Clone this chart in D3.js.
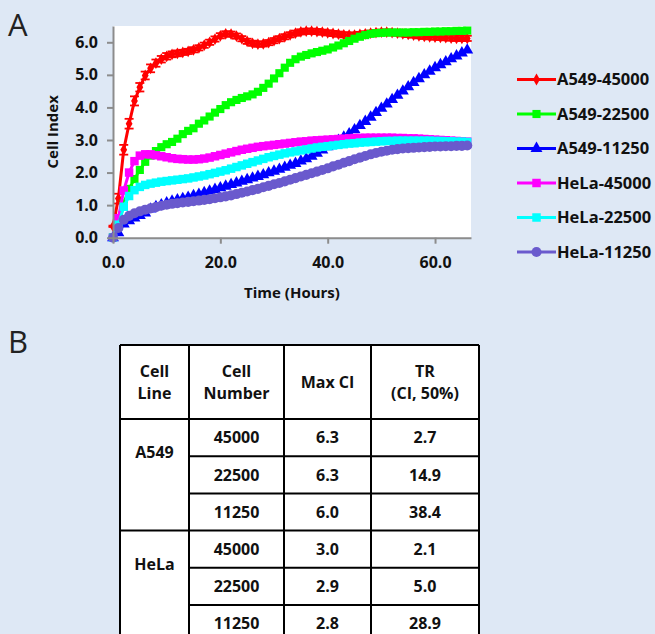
<!DOCTYPE html>
<html>
<head>
<meta charset="UTF-8" />
<style>
  body { margin: 0; background: #dee8f5; }
  svg { display: block; }
  text { font-family: "Open Sans", sans-serif; }
  .axis text { font-weight: bold; font-size: 16px; fill: #111; }
  .axis path, .axis line { stroke: #8c8c8c; stroke-width: 2; }
  .title { font-weight: bold; font-size: 15px; fill: #111; }
  .legend text { font-weight: bold; font-size: 16.5px; fill: #111; }
  .cell { font-weight: bold; font-size: 16px; fill: #111; }
</style>
</head>
<body>
<svg id="chart" width="655" height="634"></svg>
<script src="https://d3js.org/d3.v7.min.js"></script>
<script>
// time axis, one reading per hour
const hours = d3.range(0, 67);

const a549_45000 = [0.35,1.2,2.7,3.5,4.2,4.62,4.98,5.2,5.36,5.48,5.57,5.63,5.66,5.69,5.72,5.77,5.83,5.91,6.0,6.1,
  6.2,6.26,6.25,6.19,6.11,6.03,5.97,5.94,5.95,5.99,6.05,6.11,6.17,6.23,6.28,6.32,6.34,6.34,6.33,6.31,
  6.29,6.27,6.25,6.23,6.22,6.22,6.24,6.26,6.28,6.3,6.31,6.31,6.3,6.28,6.26,6.24,6.22,6.2,6.18,6.17,
  6.16,6.15,6.14,6.13,6.12,6.12,6.12];
const a549_45000_err = [0.02,0.15,0.15,0.15,0.14,0.13,0.12,0.12,0.11,0.1,0.1,0.09,0.09,0.08,0.08,0.08,0.08,0.08,0.08,0.08,
  0.08,0.08,0.08,0.08,0.08,0.08,0.08,0.08,0.08,0.08,0.08,0.08,0.08,0.08,0.08,0.08,0.08,0.08,0.08,0.08,
  0.08,0.08,0.08,0.08,0.08,0.08,0.08,0.08,0.08,0.08,0.08,0.08,0.08,0.08,0.08,0.08,0.08,0.08,0.08,0.08,
  0.08,0.08,0.08,0.08,0.08,0.08,0.08];
const a549_22500 = [0.02,0.35,1.05,1.5,1.8,2.08,2.33,2.52,2.66,2.78,2.87,2.94,3.04,3.18,3.28,3.36,3.5,3.6,3.72,3.84,
  3.95,4.07,4.16,4.23,4.29,4.34,4.4,4.48,4.6,4.73,4.89,5.05,5.22,5.37,5.48,5.56,5.61,5.66,5.7,5.74,
  5.78,5.84,5.9,5.97,6.04,6.11,6.17,6.22,6.26,6.28,6.29,6.3,6.3,6.3,6.3,6.3,6.31,6.31,6.32,6.32,
  6.33,6.33,6.34,6.34,6.35,6.35,6.36];
const a549_11250 = [0.0,0.15,0.42,0.52,0.6,0.68,0.76,0.88,0.95,1.01,1.07,1.12,1.16,1.2,1.24,1.29,1.33,1.38,1.43,1.48,
  1.53,1.58,1.63,1.68,1.73,1.78,1.83,1.88,1.93,1.99,2.04,2.1,2.16,2.22,2.28,2.35,2.42,2.5,2.59,2.69,
  2.79,2.89,2.99,3.09,3.19,3.31,3.44,3.57,3.7,3.84,3.97,4.1,4.24,4.37,4.5,4.63,4.76,4.88,5.0,5.11,
  5.22,5.31,5.4,5.49,5.58,5.67,5.76];
const hela_45000 = [0.0,0.6,1.45,2.0,2.35,2.52,2.56,2.56,2.53,2.5,2.47,2.44,2.42,2.41,2.4,2.4,2.41,2.43,2.46,2.5,
  2.54,2.58,2.62,2.66,2.7,2.73,2.76,2.79,2.81,2.83,2.85,2.87,2.89,2.91,2.93,2.95,2.96,2.98,2.99,3.0,
  3.01,3.02,3.03,3.04,3.05,3.06,3.06,3.07,3.07,3.07,3.07,3.07,3.07,3.06,3.06,3.05,3.05,3.04,3.03,3.02,
  3.01,3.0,2.99,2.98,2.97,2.96,2.95];
const hela_22500 = [0.0,0.4,0.95,1.28,1.46,1.56,1.62,1.66,1.69,1.72,1.74,1.76,1.78,1.8,1.82,1.85,1.88,1.91,1.95,1.99,
  2.03,2.07,2.12,2.17,2.22,2.27,2.32,2.37,2.42,2.47,2.51,2.55,2.59,2.62,2.65,2.68,2.71,2.74,2.77,2.79,
  2.81,2.83,2.85,2.87,2.89,2.9,2.92,2.93,2.94,2.95,2.96,2.97,2.97,2.98,2.98,2.98,2.98,2.98,2.98,2.98,
  2.97,2.97,2.96,2.96,2.95,2.95,2.94];
const hela_11250 = [0.0,0.3,0.55,0.67,0.75,0.81,0.86,0.9,0.94,0.98,1.01,1.04,1.06,1.08,1.1,1.12,1.14,1.16,1.18,1.21,
  1.24,1.27,1.3,1.34,1.38,1.42,1.46,1.5,1.55,1.59,1.64,1.68,1.73,1.78,1.83,1.88,1.93,1.98,2.03,2.08,
  2.13,2.19,2.24,2.3,2.35,2.41,2.46,2.51,2.56,2.6,2.64,2.67,2.7,2.72,2.74,2.75,2.76,2.77,2.78,2.79,
  2.8,2.8,2.81,2.81,2.82,2.82,2.83];

const seriesNames = ["A549-45000", "A549-22500", "A549-11250", "HeLa-45000", "HeLa-22500", "HeLa-11250"];
const seriesValues = [a549_45000, a549_22500, a549_11250, hela_45000, hela_22500, hela_11250];
const seriesColors = ["#ff0000", "#00ff00", "#0000ff", "#ff00ff", "#00ffff", "#6a5acd"];
const seriesSymbols = [d3.symbolDiamond, d3.symbolSquare, d3.symbolTriangle, d3.symbolSquare, d3.symbolSquare, d3.symbolCircle];
const symbolSizes = [40, 66, 62, 72, 72, 80];

const yTicks = [0, 1, 2, 3, 4, 5, 6];
const xTicks = [0, 20, 40, 60];

// table B
const tableHeader = [["Cell", "Line"], ["Cell", "Number"], ["Max CI"], ["TR", "(CI, 50%)"]];
const cellLines = ["A549", "HeLa"];
const cellNumbers = ["45000", "22500", "11250", "45000", "22500", "11250"];
const maxCI = ["6.3", "6.3", "6.0", "3.0", "2.9", "2.8"];
const trValues = ["2.7", "14.9", "38.4", "2.1", "5.0", "28.9"];

const svg = d3.select("#chart");

// panel letters
svg.append("text").attr("x", 8).attr("y", 36).attr("font-size", 31)
  .attr("fill", "#222").text("A");
svg.append("text").attr("x", 8).attr("y", 353).attr("font-size", 31)
  .attr("fill", "#222").text("B");

const x = d3.scaleLinear().domain([0, 66.7]).range([113, 471]);
const y = d3.scaleLinear().domain([0, 6.5]).range([237.7, 26]);

svg.append("rect")
  .attr("x", x(0)).attr("y", y(6.5))
  .attr("width", x(66.7) - x(0)).attr("height", y(0) - y(6.5))
  .attr("fill", "#fff");

const plot = svg.append("g");

seriesValues.forEach((vals, i) => {
  const pts = hours.map((h, k) => [h, vals[k]]);
  const line = d3.line().x(d => x(d[0])).y(d => y(d[1]));
  plot.append("path").datum(pts)
    .attr("fill", "none").attr("stroke", seriesColors[i]).attr("stroke-width", 3)
    .attr("d", line);

  if (i === 0) {
    const eb = plot.append("g").attr("stroke", seriesColors[i]).attr("stroke-width", 1.8);
    pts.forEach((d, k) => {
      const e = a549_45000_err[k];
      const cx = x(d[0]);
      eb.append("line").attr("x1", cx).attr("x2", cx).attr("y1", y(d[1] - e)).attr("y2", y(d[1] + e));
      eb.append("line").attr("x1", cx - 4.5).attr("x2", cx + 4.5).attr("y1", y(d[1] - e)).attr("y2", y(d[1] - e));
      eb.append("line").attr("x1", cx - 4.5).attr("x2", cx + 4.5).attr("y1", y(d[1] + e)).attr("y2", y(d[1] + e));
    });
  }

  plot.append("g").selectAll("path").data(pts).enter().append("path")
    .attr("transform", d => `translate(${x(d[0])},${y(d[1])})`)
    .attr("d", d3.symbol().type(seriesSymbols[i]).size(symbolSizes[i]))
    .attr("fill", seriesColors[i]);
});

// axes
svg.append("g").attr("class", "axis")
  .attr("transform", `translate(${x(0)},0)`)
  .call(d3.axisLeft(y).tickValues(yTicks).tickFormat(d3.format(".1f")).tickSize(6).tickSizeOuter(0).tickPadding(9));

svg.append("g").attr("class", "axis")
  .attr("transform", `translate(0,${y(0)})`)
  .call(d3.axisBottom(x).tickValues(xTicks).tickFormat(d3.format(".1f")).tickSize(6).tickSizeOuter(0).tickPadding(13));

svg.append("text").attr("class", "title")
  .attr("transform", `translate(58,${(y(0) + y(6.5)) / 2}) rotate(-90)`)
  .attr("text-anchor", "middle").text("Cell Index");

svg.append("text").attr("class", "title")
  .attr("x", (x(0) + x(66.7)) / 2).attr("y", 298)
  .attr("text-anchor", "middle").text("Time (Hours)");

// legend
const legend = svg.append("g").attr("class", "legend");
seriesNames.forEach((name, i) => {
  const ly = 79.5 + i * 34.5;
  const g = legend.append("g").attr("transform", `translate(0,${ly})`);
  g.append("line").attr("x1", 517).attr("x2", 556).attr("y1", 0).attr("y2", 0)
    .attr("stroke", seriesColors[i]).attr("stroke-width", 3);
  g.append("path").attr("transform", "translate(536.5,0)")
    .attr("d", d3.symbol().type(seriesSymbols[i]).size(symbolSizes[i]))
    .attr("fill", seriesColors[i]);
  g.append("text").attr("x", 557).attr("y", 0).attr("dy", "0.36em").text(name);
});

// table
const colX = [120, 189, 284, 371, 479];
const headTop = 345, headBottom = 419, rowH = 37.2;
const rowY = i => headBottom + i * rowH;
const tbl = svg.append("g");

tbl.append("rect").attr("x", colX[0]).attr("y", headTop)
  .attr("width", colX[4] - colX[0]).attr("height", rowY(6) - headTop).attr("fill", "#fff");

tableHeader.forEach((lines, c) => {
  const cx = (colX[c] + colX[c + 1]) / 2;
  const mid = (headTop + headBottom) / 2;
  lines.forEach((t, j) => {
    tbl.append("text").attr("class", "cell").attr("text-anchor", "middle")
      .attr("x", cx).attr("y", mid + (j - (lines.length - 1) / 2) * 22).attr("dy", "0.36em").text(t);
  });
});

cellLines.forEach((name, g) => {
  tbl.append("text").attr("class", "cell").attr("text-anchor", "middle")
    .attr("x", (colX[0] + colX[1]) / 2).attr("y", rowY(g * 3) + 33.5).attr("dy", "0.36em").text(name);
});

[cellNumbers, maxCI, trValues].forEach((col, c) => {
  col.forEach((t, r) => {
    tbl.append("text").attr("class", "cell").attr("text-anchor", "middle")
      .attr("x", (colX[c + 1] + colX[c + 2]) / 2).attr("y", rowY(r) + rowH / 2).attr("dy", "0.36em").text(t);
  });
});

const gridLines = tbl.append("g").attr("stroke", "#000").attr("stroke-width", 2);
colX.forEach(cx => {
  gridLines.append("line").attr("x1", cx).attr("x2", cx).attr("y1", headTop).attr("y2", rowY(6));
});
gridLines.append("line").attr("x1", colX[0]).attr("x2", colX[4]).attr("y1", headTop).attr("y2", headTop);
d3.range(0, 7).forEach(r => {
  const full = r % 3 === 0;
  gridLines.append("line").attr("x1", full ? colX[0] : colX[1]).attr("x2", colX[4])
    .attr("y1", rowY(r)).attr("y2", rowY(r));
});
</script>
</body>
</html>
